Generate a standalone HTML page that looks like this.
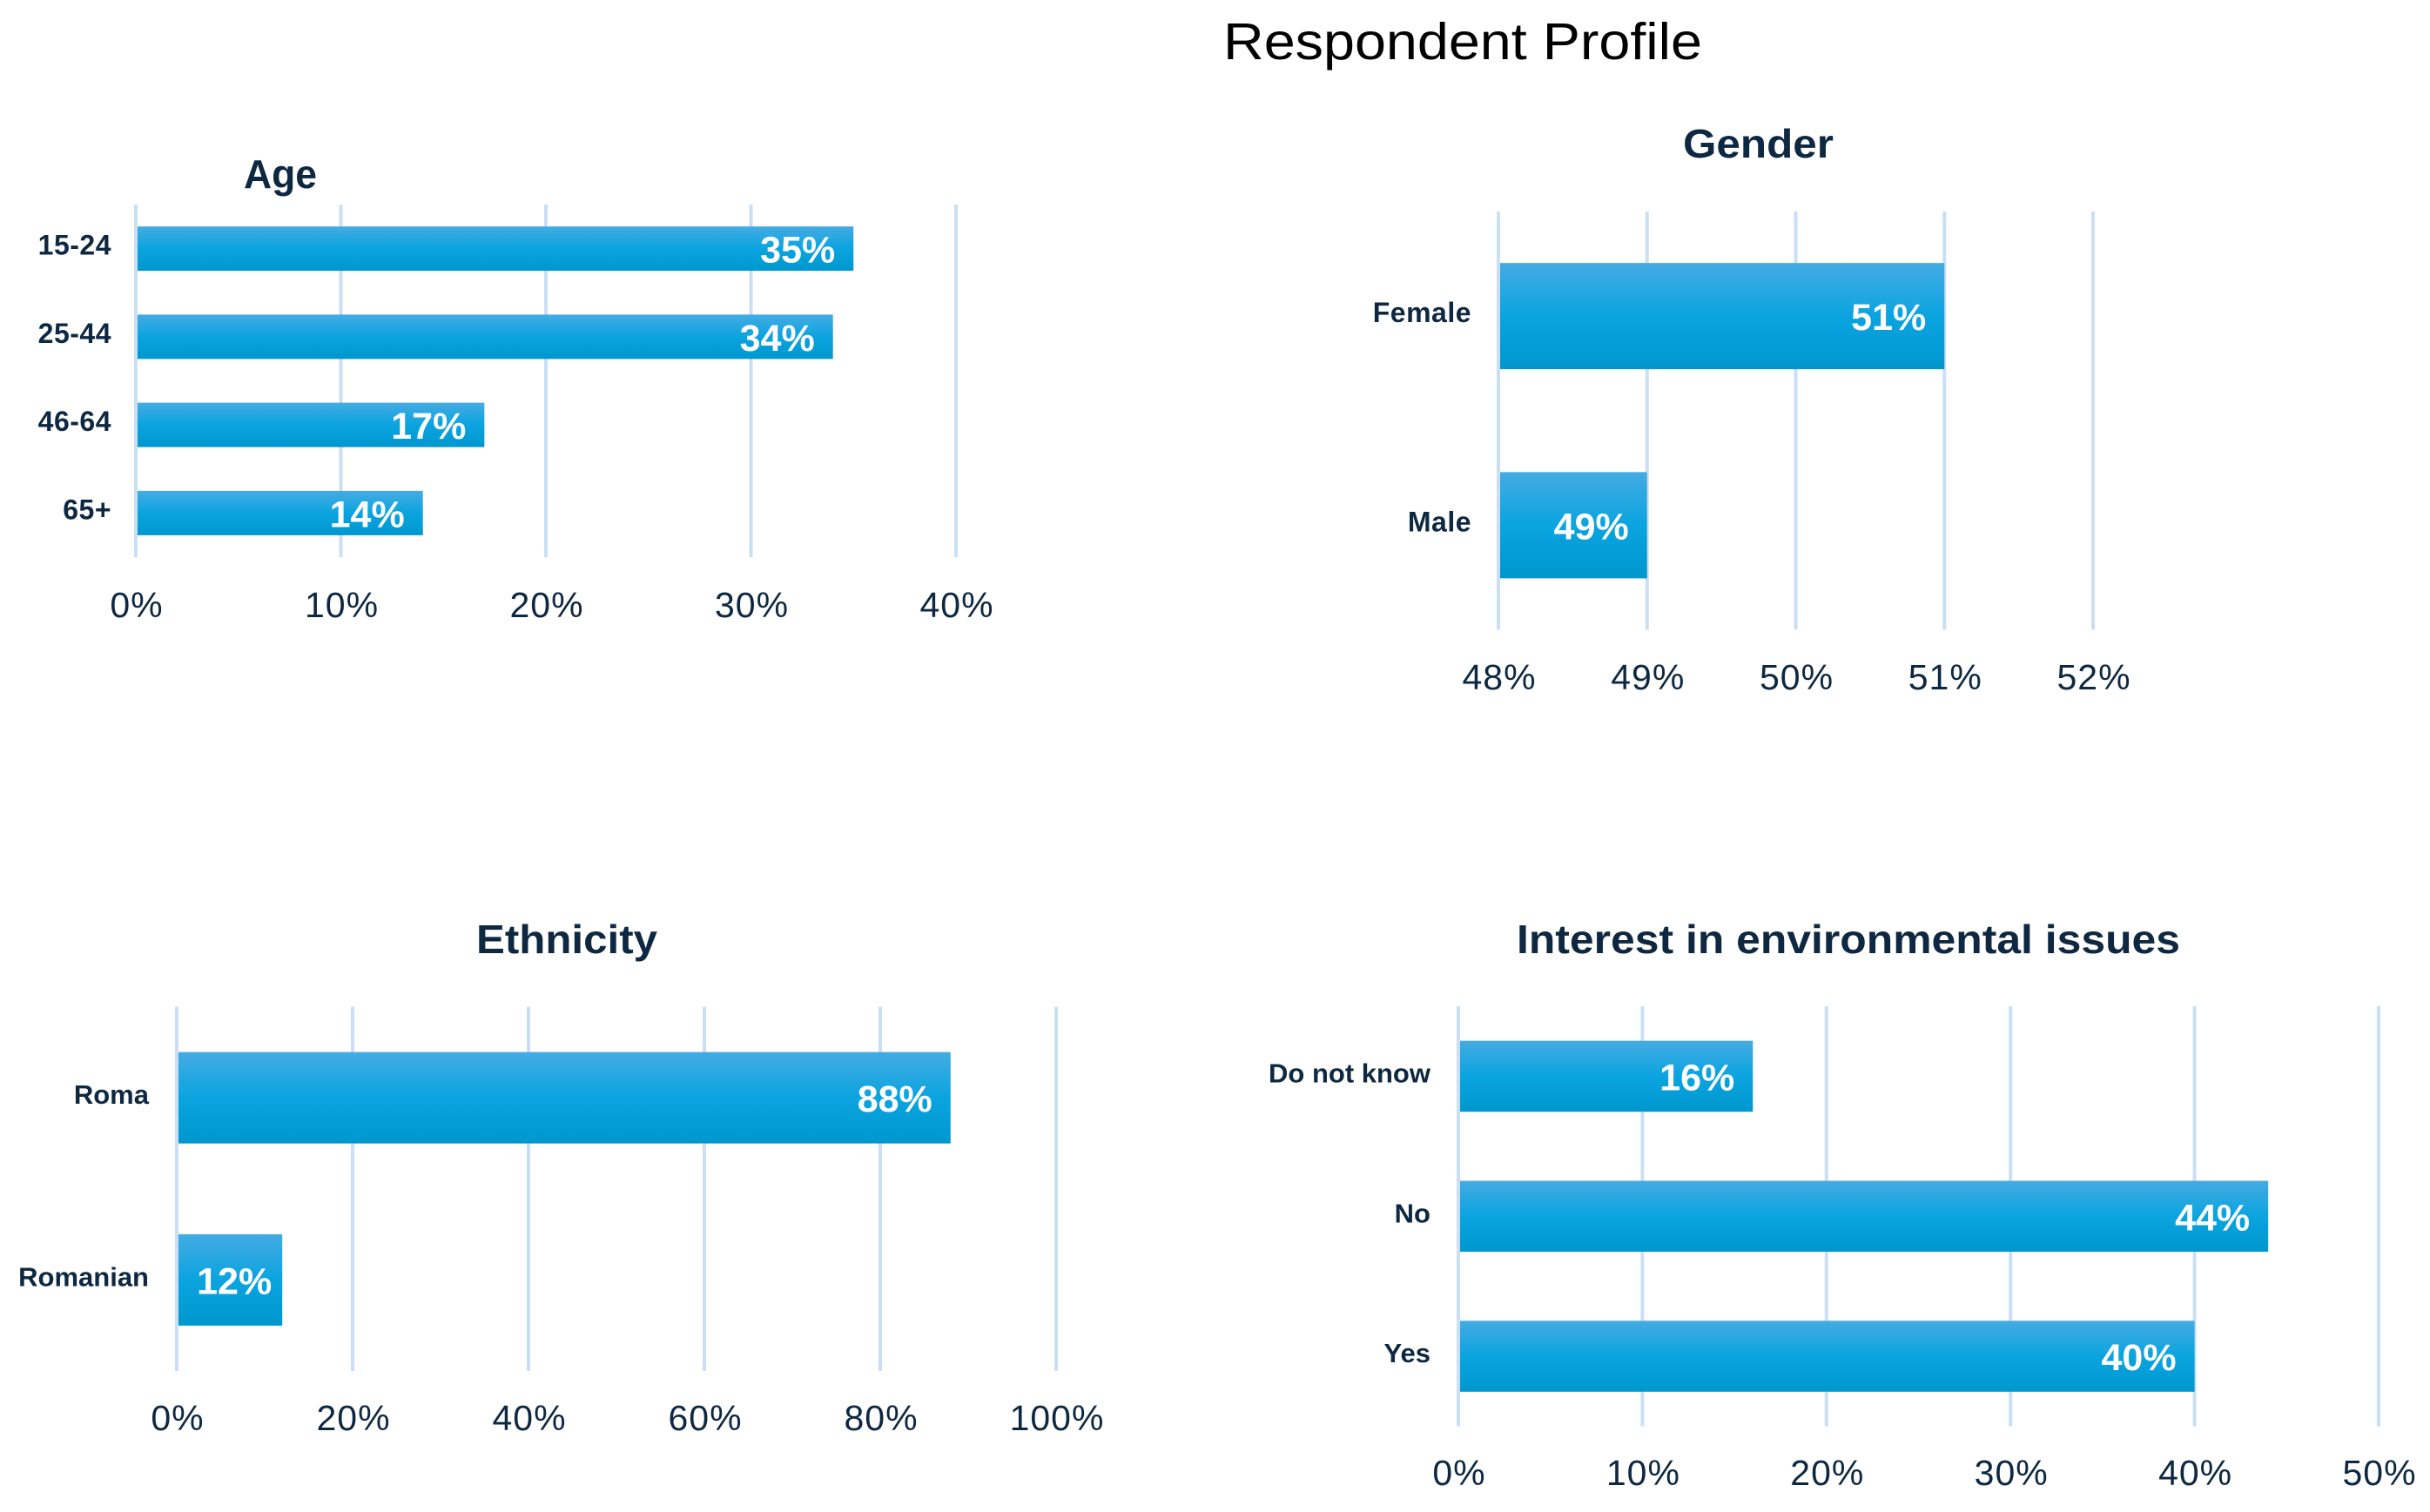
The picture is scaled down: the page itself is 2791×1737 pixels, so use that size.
<!DOCTYPE html>
<html lang="en">
<head>
<meta charset="utf-8">
<title>Respondent Profile</title>
<style>
html,body{margin:0;padding:0;background:#fff;}
svg{display:block;}
text{font-family:"Liberation Sans",sans-serif;}
</style>
</head>
<body>
<svg id="figure" xmlns="http://www.w3.org/2000/svg" width="2791" height="1737" viewBox="0 0 2791 1737">
  <defs>
    <linearGradient id="barFill" x1="0" y1="0" x2="0" y2="1">
      <stop offset="0" stop-color="#45abe2"/>
      <stop offset="0.5" stop-color="#0aa4e0"/>
      <stop offset="1" stop-color="#0097ce"/>
    </linearGradient>
  </defs>
  <rect x="0" y="0" width="2791" height="1737" fill="#ffffff"/>
  <text x="1405" y="68" font-size="59" fill="#000000" textLength="550" lengthAdjust="spacingAndGlyphs">Respondent Profile</text>
</svg>
<script>
var ageCategories = ['15-24', '25-44', '46-64', '65+'];
var ageValues = [35, 34, 17, 14];
var ageTicks = [0, 10, 20, 30, 40];

var genderCategories = ['Female', 'Male'];
var genderValues = [51, 49];
var genderTicks = [48, 49, 50, 51, 52];

var ethnicityCategories = ['Roma', 'Romanian'];
var ethnicityValues = [88, 12];
var ethnicityTicks = [0, 20, 40, 60, 80, 100];

var interestCategories = ['Do not know', 'No', 'Yes'];
var interestValues = [16, 44, 40];
var interestTicks = [0, 10, 20, 30, 40, 50];

var NS = 'http://www.w3.org/2000/svg';
var INK = '#0e2841';
var figure = document.getElementById('figure');

function drawChart(slug, title, titleX, titleY, titleWidth, categories, values, ticks, box, barHeight) {
  var group = document.createElementNS(NS, 'g');
  
  
  figure.appendChild(group);

  var domainMin = ticks[0];
  var domainMax = ticks[ticks.length - 1];
  function xScale(v) {
    return box.left + (v - domainMin) / (domainMax - domainMin) * (box.right - box.left);
  }
  function yBand(i) {
    return box.top + (i + 0.5) * (box.bottom - box.top) / categories.length;
  }

  var titleEl = document.createElementNS(NS, 'text');
  
  
  titleEl.setAttribute('x', titleX);
  titleEl.setAttribute('y', titleY);
  titleEl.setAttribute('text-anchor', 'middle');
  titleEl.setAttribute('font-size', '46');
  titleEl.setAttribute('font-weight', '700');
  titleEl.setAttribute('fill', INK);
  titleEl.setAttribute('textLength', titleWidth);
  titleEl.setAttribute('lengthAdjust', 'spacingAndGlyphs');
  titleEl.textContent = title;
  group.appendChild(titleEl);

  ticks.forEach(function (t) {
    var x = xScale(t);
    var grid = document.createElementNS(NS, 'rect');
    
    
    grid.setAttribute('x', x - 2);
    grid.setAttribute('y', box.top);
    grid.setAttribute('width', 4);
    grid.setAttribute('height', box.bottom - box.top);
    grid.setAttribute('fill', '#cbdff4');
    group.appendChild(grid);

    var tick = document.createElementNS(NS, 'text');
    
    
    tick.setAttribute('x', x + 1);
    tick.setAttribute('y', box.tickY);
    tick.setAttribute('text-anchor', 'middle');
    tick.setAttribute('font-size', '41');
    tick.setAttribute('letter-spacing', '1');
    tick.setAttribute('fill', INK);
    tick.textContent = t + '%';
    group.appendChild(tick);
  });

  categories.forEach(function (name, i) {
    var cy = yBand(i);
    var x0 = box.left + 2;
    var x1 = xScale(values[i]);
    var inset = (x1 - x0) < 130 ? 12 : 21;

    var bar = document.createElementNS(NS, 'rect');
    
    
    bar.setAttribute('x', x0);
    bar.setAttribute('y', cy - barHeight / 2);
    bar.setAttribute('width', x1 - x0);
    bar.setAttribute('height', barHeight);
    bar.setAttribute('fill', 'url(#barFill)');
    group.appendChild(bar);

    var value = document.createElementNS(NS, 'text');
    
    
    value.setAttribute('x', x1 - inset);
    value.setAttribute('y', cy + 16);
    value.setAttribute('text-anchor', 'end');
    value.setAttribute('font-size', '43');
    value.setAttribute('font-weight', '700');
    value.setAttribute('fill', '#ffffff');
    value.textContent = values[i] + '%';
    group.appendChild(value);

    var cat = document.createElementNS(NS, 'text');
    
    
    cat.setAttribute('x', box.left - box.labelGap);
    cat.setAttribute('y', cy + 7);
    cat.setAttribute('text-anchor', 'end');
    cat.setAttribute('font-size', box.labelSize);
    cat.setAttribute('letter-spacing', box.labelSpacing);
    cat.setAttribute('font-weight', '700');
    cat.setAttribute('fill', INK);
    cat.textContent = name;
    group.appendChild(cat);
  });
}

drawChart('age', 'Age', 322, 216, 84, ageCategories, ageValues, ageTicks,
  {left: 156, right: 1098, top: 235, bottom: 640, tickY: 709, labelGap: 28, labelSize: 32, labelSpacing: 0.5}, 51);
drawChart('gender', 'Gender', 2019.5, 181, 173, genderCategories, genderValues, genderTicks,
  {left: 1721, right: 2404, top: 243, bottom: 723.5, tickY: 792, labelGap: 31, labelSize: 32, labelSpacing: 0.5}, 122);
drawChart('ethnicity', 'Ethnicity', 651, 1095, 208, ethnicityCategories, ethnicityValues, ethnicityTicks,
  {left: 203, right: 1213, top: 1156.5, bottom: 1575, tickY: 1643, labelGap: 32, labelSize: 31, labelSpacing: 0}, 105);
drawChart('interest', 'Interest in environmental issues', 2123, 1095, 762, interestCategories, interestValues, interestTicks,
  {left: 1675, right: 2732, top: 1156, bottom: 1638.5, tickY: 1706, labelGap: 32, labelSize: 31, labelSpacing: 0}, 81.5);
</script>
</body>
</html>
